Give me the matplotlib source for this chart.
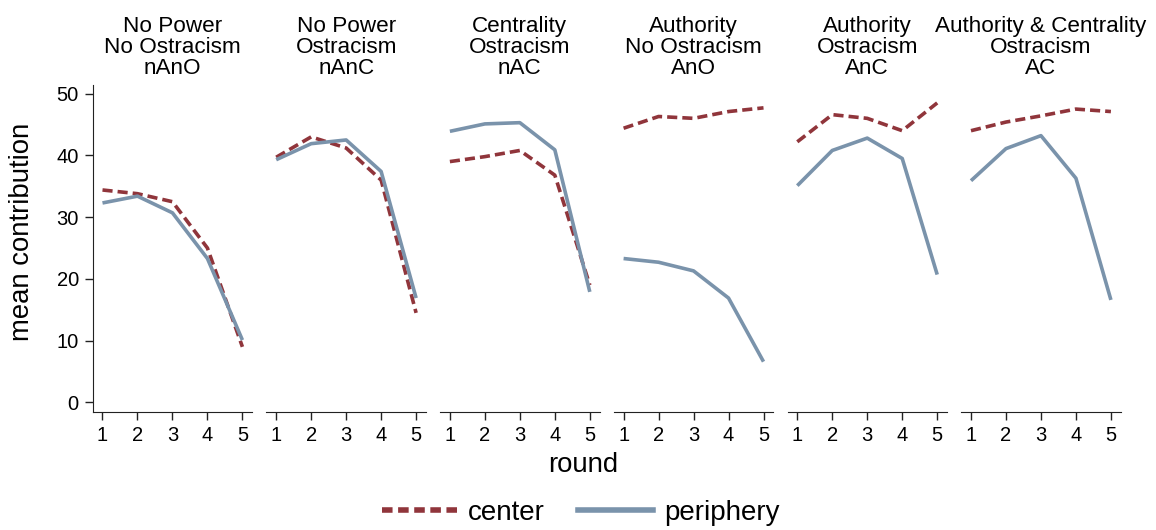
import matplotlib.pyplot as plt
from matplotlib.lines import Line2D

plt.rcParams['font.family'] = ['Liberation Sans', 'DejaVu Sans']

rounds = [1, 2, 3, 4, 5]
titles = ['No Power\nNo Ostracism\nnAnO',
          'No Power\nOstracism\nnAnC',
          'Centrality\nOstracism\nnAC',
          'Authority\nNo Ostracism\nAnO',
          'Authority\nOstracism\nAnC',
          'Authority & Centrality\nOstracism\nAC']

# mean contribution per round, center players
center_nAnO = [34.4, 33.8, 32.5, 25.0, 9.0]
center_nAnC = [39.7, 43.0, 41.2, 36.0, 14.5]
center_nAC = [39.0, 39.8, 40.8, 36.8, 19.0]
center_AnO = [44.4, 46.3, 46.0, 47.1, 47.7]
center_AnC = [42.2, 46.6, 46.0, 44.0, 48.5]
center_AC = [44.0, 45.4, 46.4, 47.5, 47.1]

# periphery players
periph_nAnO = [32.3, 33.4, 30.7, 23.3, 10.1]
periph_nAnC = [39.3, 41.9, 42.5, 37.4, 16.9]
periph_nAC = [43.9, 45.1, 45.3, 40.9, 17.9]
periph_AnO = [23.3, 22.7, 21.3, 16.9, 6.6]
periph_AnC = [35.1, 40.8, 42.8, 39.5, 20.7]
periph_AC = [35.9, 41.1, 43.2, 36.3, 16.6]

center = [center_nAnO, center_nAnC, center_nAC, center_AnO, center_AnC, center_AC]
periph = [periph_nAnO, periph_nAnC, periph_nAC, periph_AnO, periph_AnC, periph_AC]

c_center = '#90353B'
c_periph = '#7A93AB'
dash = (2.8, 1.4)

W, H = 1156, 530
fig = plt.figure(figsize=(W / 100, H / 100), dpi=100)

left0 = 92.7
step = 173.7
width = 159.5
top_px = 85
bot_px = 412.3

for i in range(6):
    ax = fig.add_axes([(left0 + i * step) / W, 1 - bot_px / H,
                       width / W, (bot_px - top_px) / H])
    ax.plot(rounds, center[i], color=c_center, lw=2.6, linestyle=(0, dash),
            dash_capstyle='butt')
    ax.plot(rounds, periph[i], color=c_periph, lw=2.6, solid_capstyle='butt')
    ax.set_xlim(0.72, 5.28)
    ax.set_ylim(-1.6, 51.4)
    ax.set_xticks(rounds)
    ax.set_yticks([0, 10, 20, 30, 40, 50])
    for s in ['top', 'right']:
        ax.spines[s].set_visible(False)
    ax.spines['bottom'].set_color('#222222')
    ax.spines['left'].set_color('#222222')
    ax.tick_params(axis='both', labelsize=14.5, length=6, width=1, color='#222222', pad=4)
    if i > 0:
        ax.spines['left'].set_visible(False)
        ax.tick_params(axis='y', left=False, labelleft=False)
    ax.set_title(titles[i], fontsize=16.2, linespacing=1.0, pad=8)

fig.text(22 / W, 1 - 232 / H, 'mean contribution', rotation=90,
         ha='center', va='center', fontsize=19.8)
fig.text(583 / W, 1 - 465 / H, 'round', ha='center', va='center', fontsize=19.8)

handles = [Line2D([0], [0], color=c_center, lw=4, linestyle=(0, (1.9, 1.0))),
           Line2D([0], [0], color=c_periph, lw=4)]
fig.legend(handles=handles, labels=['center', 'periphery'], loc='center',
           bbox_to_anchor=(581 / W, 1 - 513 / H), ncol=2, frameon=False,
           fontsize=20, handlelength=2.7, handletextpad=0.4, columnspacing=1.2)

fig.savefig('out.png', dpi=100)
